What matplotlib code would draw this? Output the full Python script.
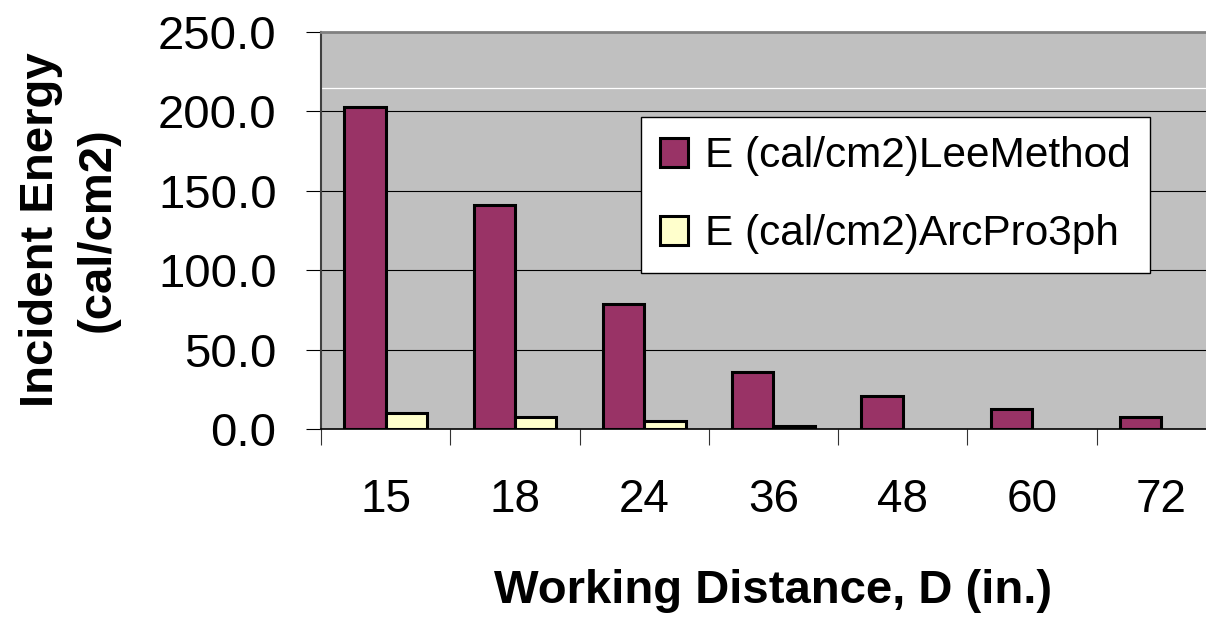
import matplotlib
matplotlib.use("Agg")
import matplotlib.pyplot as plt
import numpy as np

plt.rcParams['font.family'] = ['Liberation Sans', 'DejaVu Sans']

distances = ['15', '18', '24', '36', '48', '60', '72']
lee_method = [203.0, 141.0, 79.0, 36.0, 20.5, 12.7, 7.6]
arcpro_3ph = [9.8, 7.5, 4.8, 2.0, 0.0, 0.0, 0.0]
series_names = ['E (cal/cm2)LeeMethod', 'E (cal/cm2)ArcPro3ph']
y_ticks = [0, 50, 100, 150, 200, 250]
y_label = 'Incident Energy\n(cal/cm2)'
x_label = 'Working Distance, D (in.)'

W, H = 1206, 619
fig = plt.figure(figsize=(W / 100, H / 100), dpi=100)
fig.patch.set_facecolor('white')
ax = fig.add_axes([321 / W, (H - 429) / H, 905 / W, (429 - 32) / H])
ax.set_facecolor('#C0C0C0')

x = np.arange(len(distances))
bw = 0.32
lee_edges = ['black' if v > 0 else 'none' for v in lee_method]
arc_edges = ['black' if v > 0 else 'none' for v in arcpro_3ph]
b1 = ax.bar(x - 0.16, lee_method, width=bw, color='#993366', edgecolor=lee_edges,
            linewidth=2.2, zorder=3, label=series_names[0])
b2 = ax.bar(x + 0.16, arcpro_3ph, width=bw, color='#FFFFCC', edgecolor=arc_edges,
            linewidth=2.2, zorder=3, label=series_names[1])

ax.set_xlim(-0.5, len(distances) - 0.5)
ax.set_ylim(0, 250)
ax.set_yticks(y_ticks)
ax.set_yticklabels([f'{v:.1f}' for v in y_ticks])
for v in y_ticks[1:-1]:
    ax.axhline(v, color='black', lw=0.8, zorder=1)
ax.axhline(215, color='white', lw=0.9, zorder=1)

ax.set_xticks(np.arange(len(distances) + 1) - 0.5)
ax.set_xticklabels([])
ax.set_xticks(x, minor=True)
ax.set_xticklabels(distances, minor=True)
ax.tick_params(axis='x', which='major', length=11.5, width=0.8, color='#333333', direction='out')
ax.tick_params(axis='x', which='minor', length=0, pad=35, labelsize=33)
ax.tick_params(axis='y', length=11, width=0.8, direction='out', pad=21, labelsize=34)

ax.spines['top'].set_color('#808080')
ax.spines['top'].set_linewidth(2.0)
ax.spines['left'].set_color('#404040')
ax.spines['left'].set_linewidth(1.5)
ax.spines['bottom'].set_color('black')
ax.spines['bottom'].set_linewidth(1.2)
ax.spines['right'].set_visible(False)

fig.text(69 / W, 1 - 230 / H, y_label, rotation=90, ha='center', va='center',
         fontsize=34, fontweight='bold', multialignment='center', linespacing=1.38)
fig.text(773 / W, 1 - 591 / H, x_label, ha='center', va='center',
         fontsize=34, fontweight='bold')

leg = ax.legend(handles=[b1, b2], loc='upper left',
                bbox_to_anchor=(641 / W, 1 - 117 / H), bbox_transform=fig.transFigure,
                fontsize=30.5, frameon=True, fancybox=False, framealpha=1,
                edgecolor='black', facecolor='white', borderpad=0.45,
                handlelength=0.66, handleheight=0.68, handletextpad=0.4,
                labelspacing=0.9, borderaxespad=0)
leg.get_frame().set_linewidth(1.0)
leg.set_zorder(5)

fig.savefig('out.png', dpi=100)
